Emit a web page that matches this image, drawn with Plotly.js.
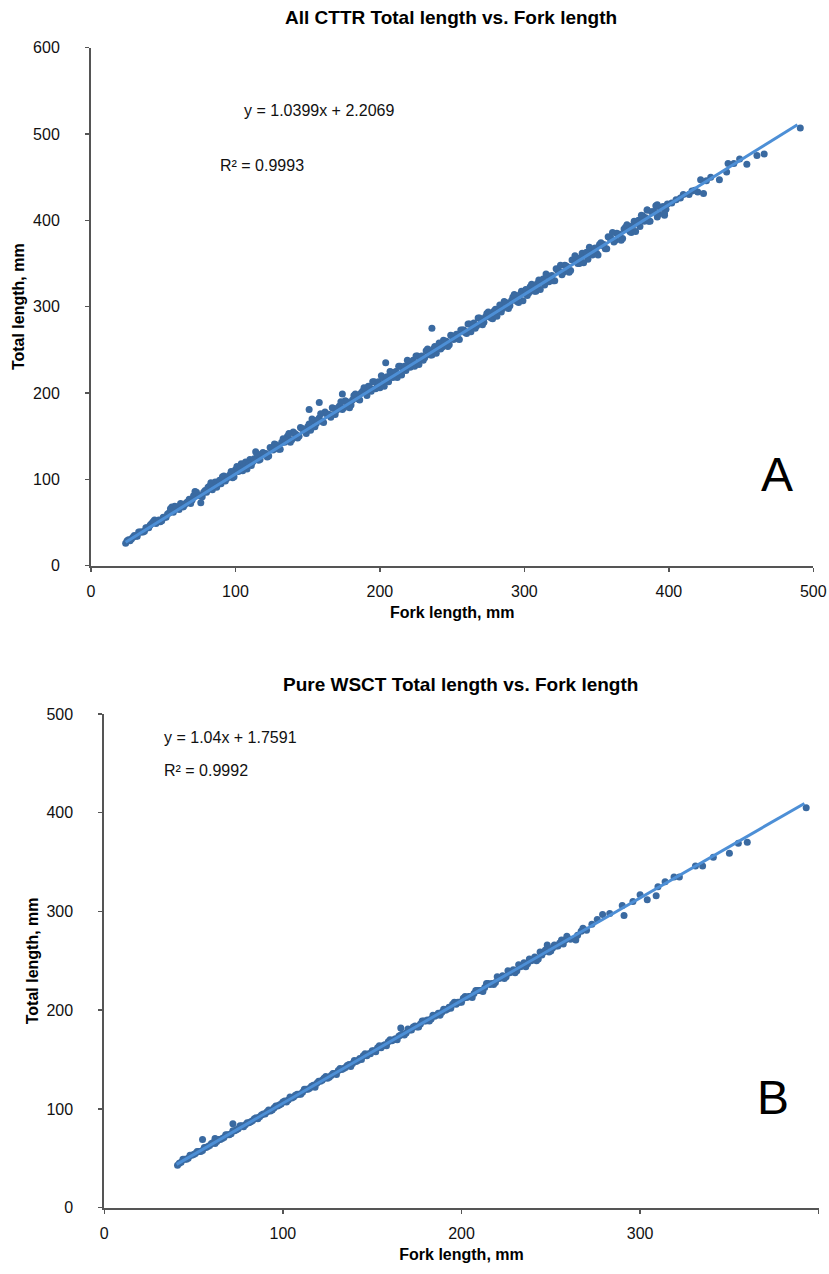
<!DOCTYPE html>
<html>
<head>
<meta charset="utf-8">
<script src="https://cdn.plot.ly/plotly-3.0.1.min.js"></script>
<style>
html,body{margin:0;padding:0;background:#fff;}
#chart{width:829px;height:1274px;}
</style>
</head>
<body>
<div id="chart"></div>
<script>
// ---------- Panel A: All CTTR ----------
const titleA = "All CTTR Total length vs. Fork length";
const eqA = "y = 1.0399x + 2.2069";
const r2A = "R² = 0.9993";
const forkA = [24,26,28,30,32,34,36,38,40,42,44,46,48,50,52,54,56,58,60,62,64,66,68,70,72,74,76,78,80,82,84,86,88,90,92,94,96,98,100,102,104,106,108,110,112,114,116,118,120,122,124,126,128,130,132,134,136,138,140,142,144,146,148,150,152,154,156,158,160,162,164,166,168,170,172,174,176,178,180,182,184,186,188,190,192,194,196,198,200,202,204,206,208,210,212,214,216,218,220,222,224,226,228,230,232,234,236,238,240,242,244,246,248,250,252,254,256,258,260,262,264,266,268,270,272,274,276,278,280,282,284,286,288,290,292,294,296,298,300,302,304,306,308,310,312,314,316,318,320,322,324,326,328,330,332,334,336,338,340,342,344,346,348,350,352,354,356,358,360,362,364,366,368,370,372,374,376,378,380,382,384,386,388,390,392,394,396,398,
 402,405,408,410,414,416,418,420,422,424,426,429,435,440,441,445,449,454,461,466,491,
 151,158,174,204,236,385,392,397,
 25,27,29,31,33,35,37,39,41,43,45,47,49,51,53,55,57,59,61,63,65,67,69,71,73,75,77,79,81,83,85,87,89,91,93,95,97,99,101,103,105,107,109,111,113,115,117,119,121,123,125,127,129,131,133,135,137,139,141,143,145,147,149,151,153,155,157,159,161,163,165,167,169,171,173,175,177,179,181,183,185,187,189,191,193,195,197,199,201,203,205,207,209,211,213,215,217,219,221,223,225,227,229,231,233,235,237,239,241,243,245,247,249,251,253,255,257,259,261,263,265,267,269,271,273,275,277,279,281,283,285,287,289,291,293,295,297,299,301,303,305,307,309,311,313,315,317,319,321,323,325,327,329,331,333,335,337,339,341,343,345,347,349,351,353,355,357,359,361,363,365,367,369,371,373,375,377,379,381,383,385,387,389,391,393,395,397,399];
const totalA = [26,30,31,35,34,39,39,44,44,49,53,51,51,56,56,61,68,69,67,72,68,73,77,76,86,82,73,85,85,92,88,97,96,95,104,101,105,102,111,109,118,115,112,123,120,132,122,129,129,126,137,134,140,135,143,143,150,143,155,152,150,159,157,161,157,168,165,171,167,178,175,172,182,180,185,181,191,188,186,197,196,192,202,201,208,202,213,211,206,218,215,213,224,223,218,231,228,226,236,235,231,243,240,238,249,247,244,254,253,251,261,260,256,266,265,263,273,273,269,280,278,275,287,285,282,292,290,286,297,297,294,306,304,301,311,309,305,318,316,313,323,321,318,331,329,325,336,334,330,344,341,337,348,346,342,354,353,350,362,360,355,367,365,362,372,371,367,381,379,375,385,384,379,392,390,386,399,397,393,405,403,399,410,410,404,415,416,413,
 420,424,426,430,430,434,435,433,447,431,446,450,447,456,466,466,471,465,475,477,507,
 181,189,199,235,275,412,418,406,
 29,29,33,34,39,39,40,44,47,51,49,53,52,56,60,66,62,68,65,71,71,74,72,81,85,81,80,87,91,96,92,91,99,103,98,103,109,103,115,112,110,120,118,116,124,129,123,131,130,127,135,141,137,135,147,145,153,146,153,148,160,158,153,164,170,161,169,176,166,176,175,183,175,183,190,183,190,183,192,199,193,200,206,197,206,213,205,213,220,208,219,225,218,225,231,221,231,238,230,238,243,233,243,241,251,244,251,246,258,253,260,254,267,262,268,262,273,270,280,271,281,278,287,279,288,294,287,295,289,302,298,305,298,307,314,306,314,307,320,316,326,318,327,320,332,338,329,336,330,342,348,340,347,340,354,359,350,357,351,363,369,360,368,360,374,372,367,380,386,377,384,377,390,395,387,394,387,400,406,399,412,399,410,417,407,414,408,419];
const trendForkA = [24, 489];
const trendTotalA = [27.2, 510.7];

// ---------- Panel B: Pure WSCT ----------
const titleB = "Pure WSCT Total length vs. Fork length";
const eqB = "y = 1.04x + 1.7591";
const r2B = "R² = 0.9992";
const forkB = [41,42,44,46,48,50,52,54,56,58,60,62,64,66,68,70,72,74,76,78,80,82,84,86,88,90,92,94,96,98,100,102,104,106,108,110,112,114,116,118,120,122,124,126,128,130,132,134,136,138,140,142,144,146,148,150,152,154,156,158,160,162,164,166,168,170,172,174,176,178,180,182,184,186,188,190,192,194,196,198,200,202,204,206,208,210,212,214,216,218,220,222,224,226,228,230,232,234,236,238,240,242,244,246,248,250,252,254,256,258,
 259,261,264,265,267,268,270,273,276,279,283,290,291,296,300,304,309,310,314,319,322,331,335,341,350,355,360,393,
 55,62,72,166,
 43,45,47,49,51,53,55,57,59,61,63,65,67,69,71,73,75,77,79,81,83,85,87,89,91,93,95,97,99,101,103,105,107,109,111,113,115,117,119,121,123,125,127,129,131,133,135,137,139,141,143,145,147,149,151,153,155,157,159,161,163,165,167,169,171,173,175,177,179,181,183,185,187,189,191,193,195,197,199,201,203,205,207,209,211,213,215,217,219,221,223,225,227,229,231,233,235,237,239,241,243,245,247,249,251,253,255,257];
const totalB = [43,45,49,49,53,54,57,57,61,62,65,65,69,70,74,74,78,79,83,82,86,87,90,90,94,95,99,99,103,104,107,107,112,112,115,115,120,120,123,122,128,129,133,132,136,135,141,141,144,143,149,149,150,156,156,159,158,164,164,164,170,170,170,175,175,181,180,184,183,189,189,189,195,195,195,201,201,202,208,208,208,214,214,213,220,220,219,227,226,226,234,233,232,240,239,238,246,245,244,252,251,250,259,259,266,260,266,265,271,271,
 275,272,271,276,280,283,281,287,292,297,298,306,296,310,317,312,316,325,330,335,335,346,346,355,359,369,370,405,
 69,70,85,182,
 46,49,50,53,55,57,58,61,63,66,67,69,71,74,75,78,80,83,84,86,88,91,92,95,97,98,101,103,105,108,109,111,114,115,117,120,121,124,126,128,131,131,134,136,139,140,142,145,146,148,151,154,154,156,159,162,162,165,168,169,171,174,176,177,180,183,183,186,189,190,191,194,197,198,200,203,206,206,208,212,213,214,217,220,220,223,227,227,228,232,235,234,238,241,240,244,248,247,250,254,252,256,261,259,263,265,268,267];
const trendForkB = [40.5, 392];
const trendTotalB = [43.9, 409.4];

// ---------- styling / layout helpers ----------
const W = 829, H = 1274;
const px = x => x / W;
const py = y => 1 - y / H;
const markerColor = "#3a6aa1";
const trendColor = "#4d8fd6";
const FONT = "Liberation Sans, Arial, Helvetica, sans-serif";

const traces = [
  {x: forkA, y: totalA, type: "scatter", mode: "markers", xaxis: "x", yaxis: "y",
   marker: {color: markerColor, size: 7}, hoverinfo: "x+y"},
  {x: trendForkA, y: trendTotalA, type: "scatter", mode: "lines", xaxis: "x", yaxis: "y",
   line: {color: trendColor, width: 3}},
  {x: forkB, y: totalB, type: "scatter", mode: "markers", xaxis: "x2", yaxis: "y2",
   marker: {color: markerColor, size: 7}, hoverinfo: "x+y"},
  {x: trendForkB, y: trendTotalB, type: "scatter", mode: "lines", xaxis: "x2", yaxis: "y2",
   line: {color: trendColor, width: 3}}
];

function axisStyle(extra) {
  return Object.assign({
    showgrid: false, zeroline: false, showline: true,
    linecolor: "#555", linewidth: 2,
    ticks: "outside", ticklen: 4, tickwidth: 1.5, tickcolor: "#555",
    tickfont: {family: FONT, size: 16, color: "#111"},
    fixedrange: true
  }, extra);
}
const axTitleFont = {family: FONT, size: 16, color: "#000", weight: "bold"};

const layout = {
  width: W, height: H,
  margin: {l: 0, r: 0, t: 0, b: 0},
  paper_bgcolor: "#fff", plot_bgcolor: "#fff",
  showlegend: false,
  font: {family: FONT},
  xaxis: axisStyle({domain: [px(91), px(813.3)], range: [0, 500], dtick: 100, anchor: "y",
    ticklabelstandoff: 6,
    title: {text: "Fork length, mm", font: axTitleFont, standoff: 8}}),
  yaxis: axisStyle({domain: [py(565.7), py(47.7)], range: [0, 600], dtick: 100, anchor: "x",
    ticklabelstandoff: 22,
    title: {text: "Total length, mm", font: axTitleFont, standoff: 4}}),
  xaxis2: axisStyle({domain: [px(104.3), px(818.7)], range: [0, 400], dtick: 100, anchor: "y2",
    ticklabelstandoff: 6,
    title: {text: "Fork length, mm", font: axTitleFont, standoff: 8}}),
  yaxis2: axisStyle({domain: [py(1207.7), py(714)], range: [0, 500], dtick: 100, anchor: "x2",
    ticklabelstandoff: 22,
    title: {text: "Total length, mm", font: axTitleFont, standoff: 4}}),
  annotations: [
    {text: "<b>" + titleA + "</b>", xref: "paper", yref: "paper", x: px(451), y: py(18),
     showarrow: false, xanchor: "center", yanchor: "middle", font: {family: FONT, size: 19, color: "#000"}},
    {text: "<b>" + titleB + "</b>", xref: "paper", yref: "paper", x: px(460), y: py(684),
     showarrow: false, xanchor: "center", yanchor: "middle", font: {family: FONT, size: 19, color: "#000"}},
    {text: eqA, xref: "paper", yref: "paper", x: px(242), y: py(111),
     showarrow: false, xanchor: "left", yanchor: "middle", font: {family: FONT, size: 16, color: "#111"}},
    {text: r2A, xref: "paper", yref: "paper", x: px(218), y: py(166),
     showarrow: false, xanchor: "left", yanchor: "middle", font: {family: FONT, size: 16, color: "#111"}},
    {text: eqB, xref: "paper", yref: "paper", x: px(162), y: py(737),
     showarrow: false, xanchor: "left", yanchor: "middle", font: {family: FONT, size: 16, color: "#111"}},
    {text: r2B, xref: "paper", yref: "paper", x: px(162), y: py(770),
     showarrow: false, xanchor: "left", yanchor: "middle", font: {family: FONT, size: 16, color: "#111"}},
    {text: "A", xref: "paper", yref: "paper", x: px(777), y: py(474),
     showarrow: false, xanchor: "center", yanchor: "middle", font: {family: FONT, size: 48, color: "#000"}},
    {text: "B", xref: "paper", yref: "paper", x: px(773), y: py(1097),
     showarrow: false, xanchor: "center", yanchor: "middle", font: {family: FONT, size: 48, color: "#000"}}
  ]
};

Plotly.newPlot("chart", traces, layout, {displayModeBar: false, staticPlot: true});
</script>
</body>
</html>
